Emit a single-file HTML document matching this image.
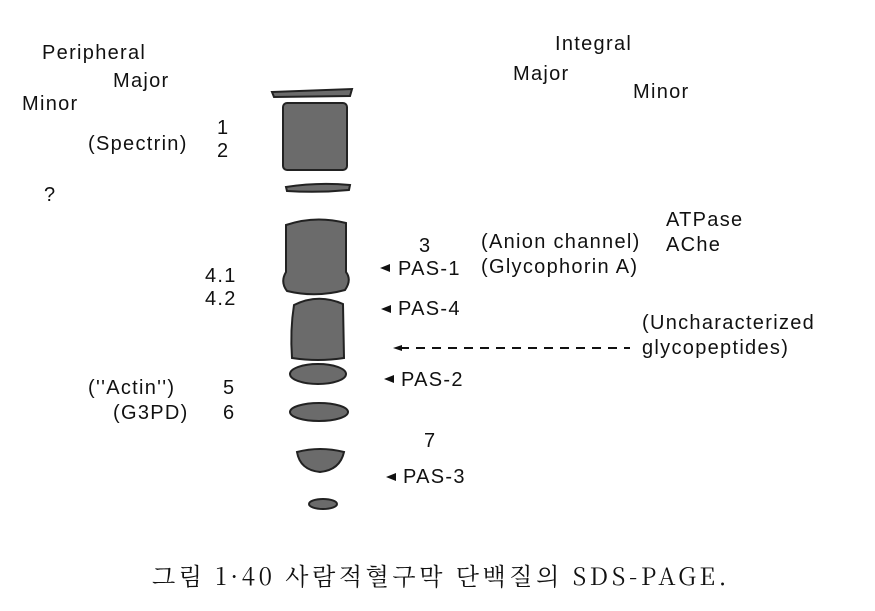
<!DOCTYPE html>
<html><head><meta charset="utf-8"><style>
body{margin:0;background:#fff;width:875px;height:606px;overflow:hidden}
svg text{font-family:"Liberation Sans",sans-serif;font-size:20px;letter-spacing:1.3px;fill:#111}
</style></head><body>
<svg width="875" height="606" viewBox="0 0 875 606" xmlns="http://www.w3.org/2000/svg">
<g fill="#6b6b6b" stroke="#222" stroke-width="2">
<path d="M272 92 L352 89 L350 96 L274 97 Z"/>
<rect x="283" y="103" width="64" height="67" rx="4"/>
<path d="M286 187 Q318 182 350 185 L349 190 Q318 193 287 191 Z"/>
<path d="M286 225 Q315 215 346 223 L346 272 Q352 280 345 290 Q316 298 287 291 Q280 282 286 272 Z"/>
<path d="M294 305 Q318 293 343 304 L344 358 Q318 362 292 358 Q290 330 294 305 Z"/>
<ellipse cx="318" cy="374" rx="28" ry="10"/>
<ellipse cx="319" cy="412" rx="29" ry="9"/>
<path d="M297 452 Q320 446 344 452 Q340 470 320 472 Q300 470 297 452 Z"/>
<ellipse cx="323" cy="504" rx="14" ry="5"/>
</g>
<text x="42" y="59">Peripheral</text>
<text x="113" y="87">Major</text>
<text x="22" y="110">Minor</text>
<text x="88" y="150">(Spectrin)</text>
<text x="217" y="134">1</text>
<text x="217" y="157">2</text>
<text x="44" y="201">?</text>
<text x="555" y="50">Integral</text>
<text x="513" y="80">Major</text>
<text x="633" y="98">Minor</text>
<text x="666" y="226">ATPase</text>
<text x="666" y="251">AChe</text>
<text x="419" y="252">3</text>
<text x="481" y="248">(Anion channel)</text>
<text x="481" y="273">(Glycophorin A)</text>
<text x="205" y="282">4.1</text>
<text x="205" y="305">4.2</text>
<text x="88" y="394">(''Actin'')</text>
<text x="223" y="394">5</text>
<text x="113" y="419">(G3PD)</text>
<text x="223" y="419">6</text>
<text x="424" y="447">7</text>
<text x="642" y="329">(Uncharacterized</text>
<text x="642" y="354">glycopeptides)</text>
<g fill="#111">
<path d="M380 268 L390 264 L390 272 Z"/><text x="398" y="275">PAS-1</text>
<path d="M381 309 L391 305 L391 313 Z"/><text x="398" y="315">PAS-4</text>
<path d="M384 379 L394 375 L394 383 Z"/><text x="401" y="386">PAS-2</text>
<path d="M386 477 L396 473 L396 481 Z"/><text x="403" y="483">PAS-3</text>
<path d="M393 348 L402 345 L402 351 Z"/>
</g>
<line x1="400" y1="348" x2="630" y2="348" stroke="#111" stroke-width="2" stroke-dasharray="9,7"/>
<text x="152" y="585" style="font-family:'Noto Serif CJK SC','Liberation Serif',serif;font-size:24px;letter-spacing:3.6px">그림 1·40  사람적혈구막 단백질의 SDS-PAGE.</text>
</svg>
</body></html>
